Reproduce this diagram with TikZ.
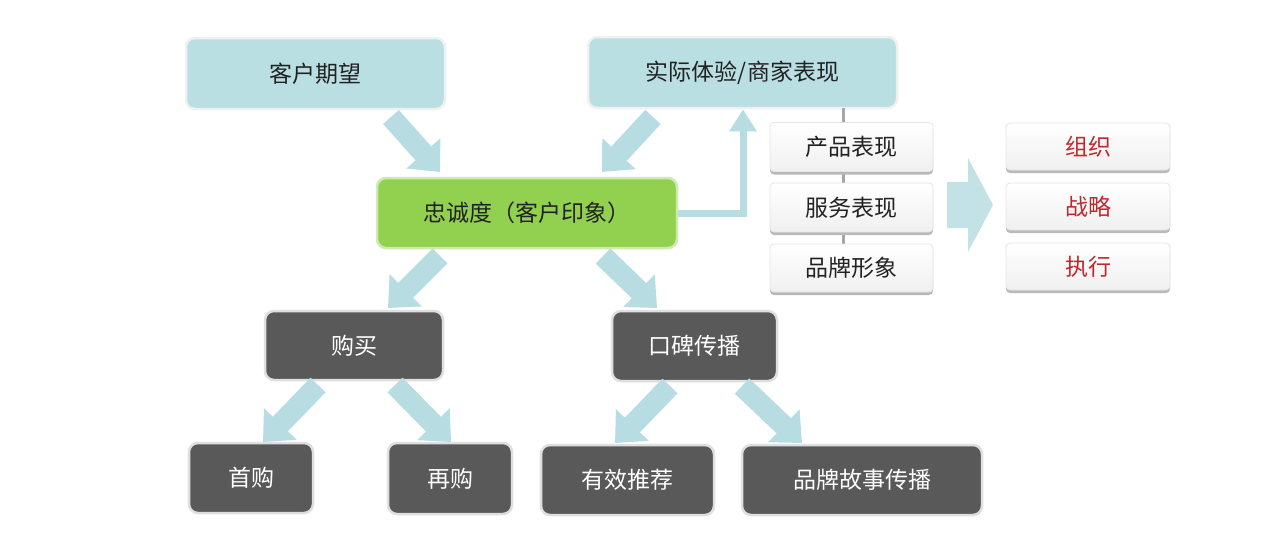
\documentclass[tikz,border=0pt]{standalone}
\usepackage{fontspec}
\setmainfont{Noto Sans CJK SC}
\usetikzlibrary{arrows.meta,shadows}
\definecolor{lblue}{HTML}{B9DFE3}
\definecolor{arrowblue}{HTML}{B7DDE2}
\definecolor{lgreen}{HTML}{92D050}
\definecolor{dgray}{HTML}{595959}
\definecolor{redtxt}{HTML}{C0282E}
\definecolor{txt}{HTML}{222222}
\begin{document}
\begin{tikzpicture}[x=1pt,y=-1pt,
  base/.style={inner sep=0pt, font=\fontsize{23}{23}\selectfont},
  bluebox/.style={base, fill=lblue, draw=gray!12, line width=2.5pt, rounded corners=9pt, text=txt},
  greenbox/.style={base, fill=lgreen, draw=lgreen!45!white, line width=2.5pt, rounded corners=9pt, text=txt},
  darkbox/.style={base, fill=dgray, draw=gray!25, line width=2.5pt, rounded corners=9pt, text=white},
  smallbox/.style={base, top color=white, bottom color=gray!12, draw=gray!20, line width=0.8pt, rounded corners=4pt, text=txt,
     drop shadow={shadow xshift=0pt, shadow yshift=-3pt, fill=gray!55, opacity=1}},
  redbox/.style={smallbox, text=redtxt},
  blockarrow/.style={draw=arrowblue, line width=21pt, -{Triangle[length=25pt, width=44pt]}},
  elbowarrow/.style={draw=arrowblue, line width=7pt, -{Triangle[length=22pt, width=26pt]}},
]
\useasboundingbox (0,0) rectangle (1280,544);
\fill[white] (0,0) rectangle (1280,544);

% main nodes
\node[bluebox, minimum width=259pt, minimum height=71pt] (qw) at (315.5,73.5) {客户期望};
\node[bluebox, minimum width=309pt, minimum height=71pt] (sj) at (742.5,72.5) {实际体验/商家表现};
\node[greenbox, minimum width=300pt, minimum height=70pt] (zc) at (527,213) {忠诚度（客户印象）};

% grey connector behind small boxes
\coordinate (gtop) at (843,108);
\coordinate (gbot) at (843,246);
\draw[gray!70, line width=3pt] (gtop) -- (gbot);

\node[smallbox, minimum width=163pt, minimum height=49pt] (cp) at (851.5,147) {产品表现};
\node[smallbox, minimum width=163pt, minimum height=49pt] (fw) at (851.5,207.5) {服务表现};
\node[smallbox, minimum width=163pt, minimum height=48pt] (pp) at (851.5,268) {品牌形象};

\node[redbox, minimum width=164pt, minimum height=47pt] (zz) at (1088,146.5) {组织};
\node[redbox, minimum width=164pt, minimum height=47pt] (zl) at (1088,206.5) {战略};
\node[redbox, minimum width=164pt, minimum height=47pt] (zx) at (1088,266.5) {执行};

\node[darkbox, minimum width=178pt, minimum height=69pt] (gm) at (354,345.5) {购买};
\node[darkbox, minimum width=165pt, minimum height=70pt] (kb) at (694.5,346) {口碑传播};
\node[darkbox, minimum width=124pt, minimum height=70pt] (sg) at (251,478) {首购};
\node[darkbox, minimum width=124pt, minimum height=71pt] (zg) at (450,478.5) {再购};
\node[darkbox, minimum width=173pt, minimum height=70pt] (yx) at (627.5,480) {有效推荐};
\node[darkbox, minimum width=240pt, minimum height=70pt] (gs) at (862,480) {品牌故事传播};

% block arrows
\coordinate (a1s) at (391,117); \coordinate (a1e) at (440,172);
\coordinate (a2s) at (653,117); \coordinate (a2e) at (602,172);
\coordinate (a3s) at (440,256); \coordinate (a3e) at (388,308);
\coordinate (a4s) at (603,256); \coordinate (a4e) at (657,308);
\coordinate (a5s) at (318,385); \coordinate (a5e) at (263,442);
\coordinate (a6s) at (395,385); \coordinate (a6e) at (451,442);
\coordinate (a7s) at (670,386); \coordinate (a7e) at (615,443);
\coordinate (a8s) at (742,386); \coordinate (a8e) at (802,443);
\foreach \i in {1,...,8}{\draw[blockarrow] (a\i s) -- (a\i e);}

% elbow arrow from loyalty to actual experience
\draw[elbowarrow] (zc.east) -- (743,213) -- (sj.south -| 743,0);

% big right arrow
\fill[arrowblue!85!white] (947,182) -- (968,182) -- (968,158) -- (993,205) -- (968,252) -- (968,228) -- (947,228) -- cycle;
\end{tikzpicture}
\end{document}
